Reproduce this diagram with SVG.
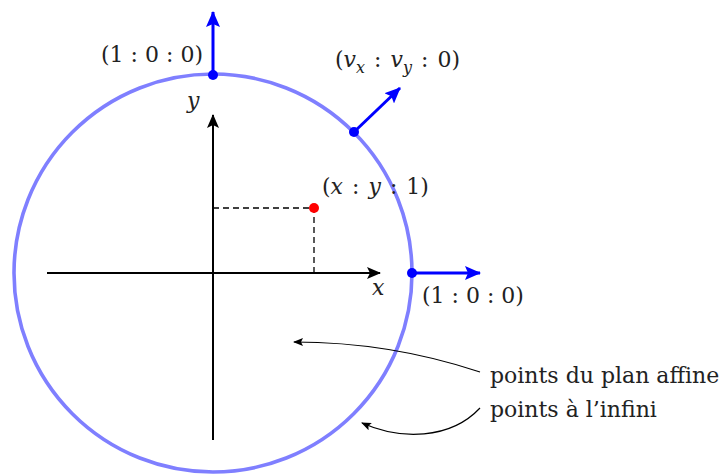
<svg xmlns="http://www.w3.org/2000/svg" width="719" height="475" viewBox="0 0 719 475">
<defs>
<style>
text{font-family:"DejaVu Serif","Liberation Serif",serif;font-size:22px;fill:#222}
.m{font-size:22px}
.it{font-style:italic}
.sub{font-size:16px;font-style:italic}
.axis{stroke:#000;stroke-width:2;fill:none}
.dash{stroke:#000;stroke-width:1.3;stroke-dasharray:6 4;fill:none}
.vec{stroke:#0000ff;stroke-width:3;fill:none}
.lead{stroke:#000;stroke-width:1.2;fill:none}
</style>
<marker id="ab" viewBox="0 0 10 10" refX="9" refY="5" markerWidth="10" markerHeight="10" markerUnits="userSpaceOnUse" orient="auto"><path d="M0,1 L10,5 L0,9 L2,5 Z" fill="#000"/></marker>
<marker id="ax" viewBox="0 0 14 12" refX="13" refY="6" markerWidth="14" markerHeight="12" markerUnits="userSpaceOnUse" orient="auto"><path d="M0,0 L14,6 L0,12 L3,6 Z" fill="#000"/></marker>
<marker id="bv" viewBox="0 0 16 14" refX="15" refY="7" markerWidth="16" markerHeight="14" markerUnits="userSpaceOnUse" orient="auto"><path d="M0,0 L16,7 L0,14 L3,7 Z" fill="#0000ff"/></marker>
</defs>
<g id="circle"><circle cx="213" cy="273" r="199" fill="none" stroke="#7f7fff" stroke-width="3.6"/></g>
<g id="axes">
<line class="axis" x1="47" y1="273" x2="380" y2="273" marker-end="url(#ax)"/>
<line class="axis" x1="213" y1="440" x2="213" y2="115" marker-end="url(#ax)"/>
<text class="m it" x="372" y="295">x</text>
<text class="m it" x="187" y="108">y</text>
</g>
<g id="affine-point">
<polyline class="dash" points="213,208 314,208 314,273"/>
<circle cx="314" cy="208" r="5" fill="#ff0000"/>
<text class="m" x="322" y="194">(<tspan class="it">x</tspan><tspan dx="9">:</tspan><tspan class="it" dx="9">y</tspan><tspan dx="9">:</tspan><tspan dx="9">1)</tspan></text>
</g>
<g id="pt-top">
<line class="vec" x1="213" y1="75" x2="213" y2="12" marker-end="url(#bv)"/>
<circle cx="213" cy="75" r="5" fill="#0000ff"/>
<text class="m" x="203" y="62" text-anchor="end">(1 : 0 : 0)</text>
</g>
<g id="pt-diag">
<line class="vec" x1="354" y1="132" x2="400" y2="88" marker-end="url(#bv)"/>
<circle cx="354" cy="132" r="5" fill="#0000ff"/>
<text class="m" x="335" y="67">(<tspan class="it">v</tspan><tspan class="sub" dy="6">x</tspan><tspan dy="-6" dx="9">:</tspan><tspan class="it" dx="9">v</tspan><tspan class="sub" dy="6">y</tspan><tspan dy="-6" dx="9">:</tspan><tspan dx="9">0)</tspan></text>
</g>
<g id="pt-right">
<line class="vec" x1="412" y1="273" x2="480" y2="273" marker-end="url(#bv)"/>
<circle cx="412" cy="273" r="5" fill="#0000ff"/>
<text class="m" x="422" y="303">(1 : 0 : 0)</text>
</g>
<g id="connectors">
<path class="lead" d="M480,372 C420,352 360,342 294,342" marker-end="url(#ab)"/>
<path class="lead" d="M480,408 C450,440 400,440 362,423" marker-end="url(#ab)"/>
</g>
<g id="labels">
<text x="490" y="383">points du plan affine</text>
<text x="490" y="417">points à l’infini</text>
</g>
</svg>
